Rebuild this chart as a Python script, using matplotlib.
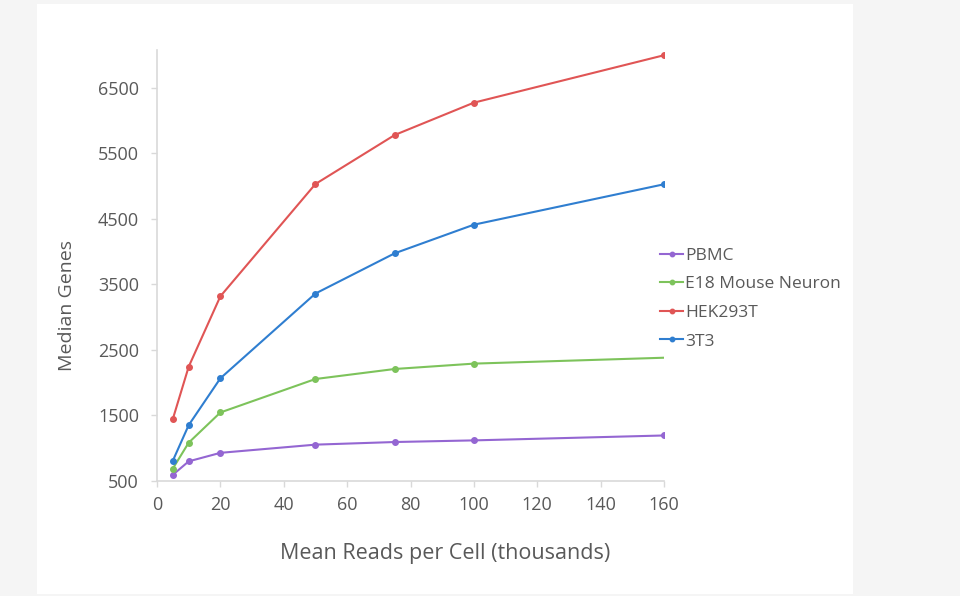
import matplotlib.pyplot as plt
from matplotlib.patches import Rectangle

plt.rcParams['font.family'] = ['Open Sans', 'DejaVu Sans']

# Mean reads per cell (thousands)
reads = [5, 10, 20, 50, 75, 100, 160]

pbmc = [595, 800, 930, 1055, 1095, 1120, 1195]
e18_neuron = [690, 1085, 1546, 2057, 2210, 2292, 2382]
hek293t = [1447, 2245, 3320, 5034, 5782, 6276, 7000]
t3t3 = [810, 1353, 2068, 3362, 3976, 4413, 5030]

series = [
    ("PBMC", pbmc, "#9466d2"),
    ("E18 Mouse Neuron", e18_neuron, "#7dc35b"),
    ("HEK293T", hek293t, "#e05555"),
    ("3T3", t3t3, "#2f7ed0"),
]

text_col = "#595959"
axis_col = "#d9d9d9"

fig = plt.figure(figsize=(9.6, 5.96), dpi=100)
fig.patch.set_facecolor("#f5f5f5")
# white card behind the chart
card = Rectangle((37 / 960, 1 - 594 / 596), (853 - 37) / 960, (594 - 4) / 596,
                 transform=fig.transFigure, facecolor="white", edgecolor="none", zorder=-10)
fig.add_artist(card)

ax = fig.add_axes([157 / 960, 1 - 481 / 596, (664 - 157) / 960, (481 - 50) / 596])
ax.set_facecolor("none")
ax.set_zorder(1)

for name, vals, col in series:
    # the neuron series has no marker on its last point
    every = slice(0, -1) if name == "E18 Mouse Neuron" else None
    ax.plot(reads, vals, color=col, lw=1.5, marker="o", markersize=4, markevery=every, label=name)

ax.set_xlim(0, 160)
ax.set_ylim(500, 7080)
ax.set_xticks(range(0, 161, 20))
ax.set_yticks(range(500, 6501, 1000))

for side in ["top", "right"]:
    ax.spines[side].set_visible(False)
for side in ["left", "bottom"]:
    ax.spines[side].set_color(axis_col)
    ax.spines[side].set_linewidth(1.2)
ax.tick_params(colors=axis_col, labelcolor=text_col, labelsize=13, length=4, width=1)
ax.tick_params(axis="y", pad=9)
ax.tick_params(axis="x", pad=7)

ax.set_xlabel("Mean Reads per Cell (thousands)", fontsize=15.5, color=text_col)
ax.set_ylabel("Median Genes", fontsize=14, color=text_col)
# labels sit centred on the chart card rather than on the plot area
ax.xaxis.set_label_coords(0.568, -0.145)
ax.yaxis.set_label_coords(-0.16, 0.408)

fig.legend(loc="center left", bbox_to_anchor=(660 / 960, 1 - 298.5 / 596), frameon=False,
           fontsize=12.5, labelcolor=text_col, handlelength=1.35, handletextpad=0.1,
           borderpad=0, borderaxespad=0, labelspacing=0.72, markerscale=0.8)

fig.savefig("out.png", dpi=100)
